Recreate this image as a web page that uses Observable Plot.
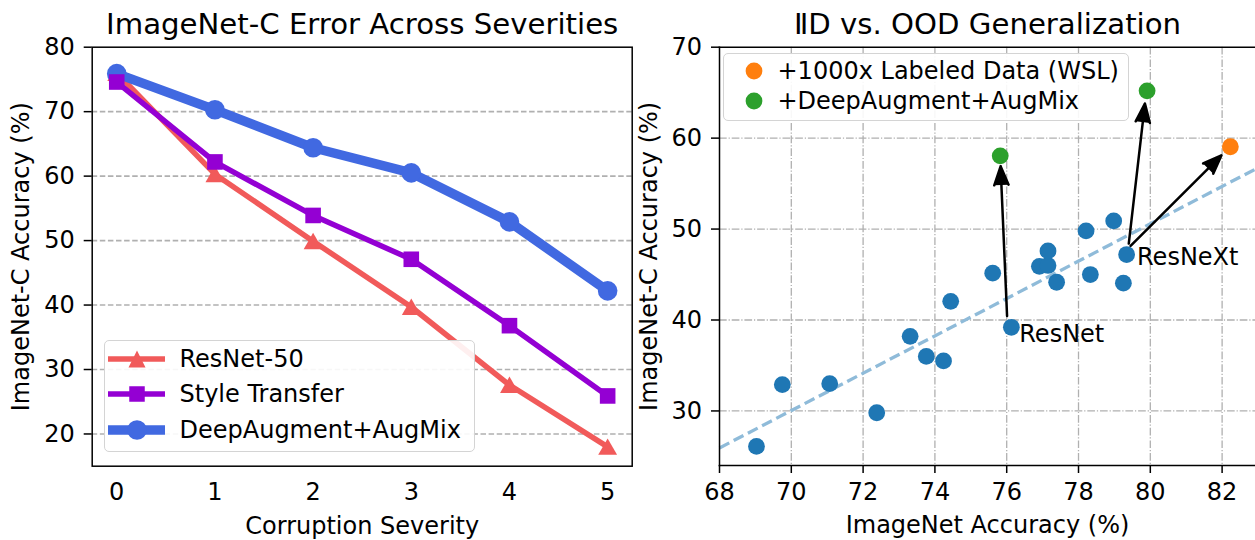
<!DOCTYPE html>
<html>
<head>
<meta charset="utf-8">
<script src="https://cdn.jsdelivr.net/npm/d3@7"></script>
<script src="https://cdn.jsdelivr.net/npm/@observablehq/plot@0.6"></script>
<style>
  html, body { margin: 0; padding: 0; background: #fff; }
  #root { position: relative; width: 1255px; height: 540px; overflow: hidden; font-family: "DejaVu Sans", sans-serif; color: #000; }
  .panel { position: absolute; top: 0; }
  .legend-box { position: absolute; box-sizing: border-box; border: 1.5px solid #d4d4d4; border-radius: 5px; background: rgba(255,255,255,0.9); }
  .legend-text { position: absolute; font-size: 24px; line-height: 1; white-space: nowrap; transform: translateY(-50%); }
  .legend-swatch { position: absolute; }
</style>
</head>
<body>
<div id="root"></div>
<script>
// ---------- Left chart data ----------
const severities = [0, 1, 2, 3, 4, 5];
const resnet50 = [76.0, 60.3, 49.9, 39.7, 27.6, 18.0];
const styleTransfer = [74.6, 62.2, 53.9, 47.1, 36.8, 25.9];
const deepAugmentAugMix = [75.9, 70.3, 64.4, 60.5, 52.9, 42.2];
const leftYTicks = [20, 30, 40, 50, 60, 70, 80];
const leftGridTicks = [20, 30, 40, 50, 60, 70];
const seriesNames = ["ResNet-50", "Style Transfer", "DeepAugment+AugMix"];

// ---------- Right chart data ----------
const baseIID = [69.03, 69.75, 71.07, 72.38, 73.31, 73.76, 74.24, 74.44, 75.61, 76.13, 76.91, 77.15, 77.15, 77.39, 78.21, 78.33, 78.98, 79.25, 79.34];
const baseOOD = [26.1, 32.9, 33.0, 29.8, 38.2, 36.0, 35.5, 42.05, 45.15, 39.2, 45.9, 46.0, 47.6, 44.15, 49.8, 45.0, 50.9, 44.05, 47.2];
const wslIID = [82.23];
const wslOOD = [59.05];
const damIID = [75.82, 79.91];
const damOOD = [58.05, 65.2];
const fitIID = [68, 82.93];
const fitOOD = [25.93, 56.6];
const arrowFromIID = [76.01, 79.40, 79.45];
const arrowFromOOD = [40.44, 48.4, 48.15];
const arrowToIID = [75.83, 79.85, 81.98];
const arrowToOOD = [56.9, 63.8, 58.1];
const annotNames = ["ResNet", "ResNeXt"];
const annotIID = [76.35, 79.63];
const annotOOD = [38.45, 46.9];
const rightXTicks = [68, 70, 72, 74, 76, 78, 80, 82];
const rightYTicks = [30, 40, 50, 60, 70];
const rightLegendNames = ["+1000x Labeled Data (WSL)", "+DeepAugment+AugMix"];

// ---------- Styles ----------
const RED = "#f15a5a", PURPLE = "#9400d3", BLUE = "#4169e1";
const C_BASE = "#1f77b4", C_WSL = "#ff7f0e", C_DAM = "#2ca02c", C_FIT = "#8fbbd9";
const FONT = "DejaVu Sans";

const root = document.getElementById("root");

// ---------- Left chart ----------
const rowsOf = (vals) => severities.map((s, i) => ({s, v: vals[i]}));
const leftPlot = Plot.plot({
  width: 640, height: 540,
  marginLeft: 91.7, marginRight: 8.3, marginTop: 46.7, marginBottom: 74.3,
  style: {fontFamily: FONT, fontSize: "24px", color: "#000", background: "transparent", overflow: "visible"},
  x: {domain: [-0.25, 5.25]},
  y: {domain: [15, 80]},
  marks: [
    Plot.ruleY(leftGridTicks, {stroke: "#b0b0b0", strokeWidth: 1.6, strokeDasharray: "5.5,2.6"}),
    Plot.axisX({ticks: severities, tickSize: 0, tickPadding: 17, tickFormat: d => String(d), label: null, fontSize: 24}),
    Plot.axisY({ticks: leftYTicks, tickSize: 8, tickPadding: 9.5, label: null, fontSize: 24, strokeWidth: 1.5}),
    Plot.line(rowsOf(resnet50), {x: "s", y: "v", stroke: RED, strokeWidth: 5.5}),
    Plot.dot(rowsOf(resnet50), {x: "s", y: "v", symbol: "triangle", r: 7, fill: RED, stroke: "none", dy: 2.5}),
    Plot.line(rowsOf(deepAugmentAugMix), {x: "s", y: "v", stroke: BLUE, strokeWidth: 9.5}),
    Plot.dot(rowsOf(deepAugmentAugMix), {x: "s", y: "v", symbol: "circle", r: 9.8, fill: BLUE, stroke: "none"}),
    Plot.line(rowsOf(styleTransfer), {x: "s", y: "v", stroke: PURPLE, strokeWidth: 5.5}),
    Plot.dot(rowsOf(styleTransfer), {x: "s", y: "v", symbol: "square", r: 8.8, fill: PURPLE, stroke: "none"}),
    Plot.frame({stroke: "#000", strokeWidth: 1.5}),
    Plot.text(["ImageNet-C Error Across Severities"], {frameAnchor: "top", textAnchor: "middle", lineAnchor: "middle", dy: -23, fontSize: 29.2}),
    Plot.text(["Corruption Severity"], {frameAnchor: "bottom", textAnchor: "middle", lineAnchor: "middle", dy: 60.3, fontSize: 24}),
    Plot.text(["ImageNet-C Accuracy (%)"], {frameAnchor: "left", textAnchor: "middle", lineAnchor: "middle", rotate: -90, dx: -70.7, fontSize: 24})
  ]
});
leftPlot.classList.add("panel");
leftPlot.style.left = "0px";
root.appendChild(leftPlot);

// ---------- Right chart ----------
const pts = (xs, ys) => xs.map((x, i) => ({x, y: ys[i]}));
const arrows = arrowFromIID.map((x1, i) => ({x1, y1: arrowFromOOD[i], x2: arrowToIID[i], y2: arrowToOOD[i]}));
const annots = annotNames.map((t, i) => ({t, x: annotIID[i], y: annotOOD[i]}));
const gridDash = "7.7,1.9,1.2,1.9";
const rightPlot = Plot.plot({
  width: 615, height: 540,
  marginLeft: 79, marginRight: 0, marginTop: 46.7, marginBottom: 75,
  style: {fontFamily: FONT, fontSize: "24px", color: "#000", background: "#fff", overflow: "visible"},
  x: {domain: [68, 82.93]},
  y: {domain: [24, 70]},
  marks: [
    Plot.ruleX(rightXTicks.slice(1), {stroke: "#b0b0b0", strokeWidth: 1.3, strokeDasharray: gridDash}),
    Plot.ruleY(rightYTicks.slice(0, -1), {stroke: "#b0b0b0", strokeWidth: 1.3, strokeDasharray: gridDash}),
    Plot.axisX({ticks: rightXTicks, tickSize: 8, tickPadding: 9.5, label: null, fontSize: 24, strokeWidth: 1.5}),
    Plot.axisY({ticks: rightYTicks, tickSize: 8, tickPadding: 9.5, label: null, fontSize: 24, strokeWidth: 1.5}),
    Plot.line(pts(fitIID, fitOOD), {x: "x", y: "y", stroke: C_FIT, strokeWidth: 3.3, strokeDasharray: "11,5", strokeLinecap: "butt"}),
    Plot.dot(pts(baseIID, baseOOD), {x: "x", y: "y", r: 8.4, fill: C_BASE, stroke: "none"}),
    Plot.dot(pts(wslIID, wslOOD), {x: "x", y: "y", r: 8.4, fill: C_WSL, stroke: "none"}),
    Plot.dot(pts(damIID, damOOD), {x: "x", y: "y", r: 8.4, fill: C_DAM, stroke: "none"}),
    Plot.arrow(arrows, {x1: "x1", y1: "y1", x2: "x2", y2: "y2", stroke: "#000", fill: "#000", strokeWidth: 2.5, headLength: 12, headAngle: 42}),
    Plot.text(annots, {x: "x", y: "y", text: "t", textAnchor: "start", fontSize: 24}),
    Plot.frame({anchor: "left", stroke: "#000", strokeWidth: 1.5}),
    Plot.frame({anchor: "top", stroke: "#000", strokeWidth: 1.5}),
    Plot.frame({anchor: "bottom", stroke: "#000", strokeWidth: 1.5}),
    Plot.text(["\u2161D vs. OOD Generalization"], {frameAnchor: "top", textAnchor: "middle", lineAnchor: "middle", dy: -23, fontSize: 29.2}),
    Plot.text(["ImageNet Accuracy (%)"], {frameAnchor: "bottom", textAnchor: "middle", lineAnchor: "middle", dy: 60.3, fontSize: 24}),
    Plot.text(["ImageNet-C Accuracy (%)"], {frameAnchor: "left", textAnchor: "middle", lineAnchor: "middle", rotate: -90, dx: -70, fontSize: 24})
  ]
});
rightPlot.classList.add("panel");
rightPlot.style.left = "640px";
root.appendChild(rightPlot);

// ---------- Legends (HTML overlays) ----------
function box(left, top, w, h) {
  const d = document.createElement("div");
  d.className = "legend-box";
  Object.assign(d.style, {left: left + "px", top: top + "px", width: w + "px", height: h + "px"});
  root.appendChild(d);
}
function text(t, left, cy) {
  const d = document.createElement("div");
  d.className = "legend-text";
  d.textContent = t;
  Object.assign(d.style, {left: left + "px", top: cy + "px"});
  root.appendChild(d);
}
function swatch(svgInner, left, cy, w, h) {
  const ns = "http://www.w3.org/2000/svg";
  const s = document.createElementNS(ns, "svg");
  s.setAttribute("class", "legend-swatch");
  s.setAttribute("width", w); s.setAttribute("height", h);
  s.style.left = left + "px"; s.style.top = (cy - h / 2) + "px";
  s.innerHTML = svgInner;
  root.appendChild(s);
}

// left legend
box(103.5, 340, 371, 112);
const leftRows = [
  {name: seriesNames[0], color: RED, lw: 5.5, shape: "tri", cy: 358.6},
  {name: seriesNames[1], color: PURPLE, lw: 5.5, shape: "sq", cy: 394.3},
  {name: seriesNames[2], color: BLUE, lw: 9.5, shape: "circ", cy: 430}
];
for (const r of leftRows) {
  let m;
  if (r.shape === "tri") m = `<polygon points="29,6.5 20.5,23.5 37.5,23.5" fill="${r.color}"/>`;
  else if (r.shape === "sq") m = `<rect x="21.25" y="7.25" width="15.5" height="15.5" fill="${r.color}"/>`;
  else m = `<circle cx="29" cy="15" r="9.8" fill="${r.color}"/>`;
  swatch(`<line x1="0" y1="15" x2="57" y2="15" stroke="${r.color}" stroke-width="${r.lw}"/>${m}`, 108, r.cy, 58, 30);
  text(r.name, 179.5, r.cy);
}

// right legend
box(723, 53.4, 406, 68);
const rightRows = [
  {name: rightLegendNames[0], color: C_WSL, cy: 70.7},
  {name: rightLegendNames[1], color: C_DAM, cy: 101}
];
for (const r of rightRows) {
  swatch(`<circle cx="10" cy="10" r="8.4" fill="${r.color}"/>`, 744, r.cy, 20, 20);
  text(r.name, 777.5, r.cy);
}
</script>
</body>
</html>
